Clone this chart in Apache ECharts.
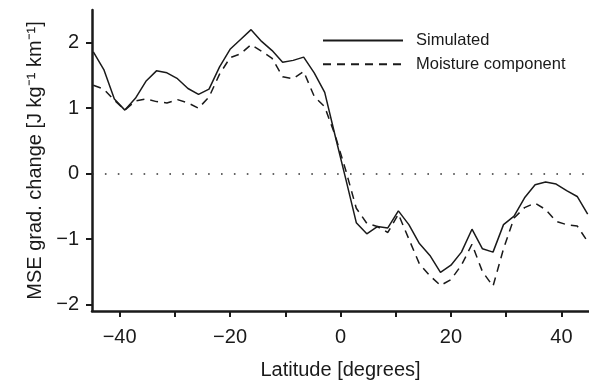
<!DOCTYPE html>
<html><head><meta charset="utf-8">
<script src="https://cdn.jsdelivr.net/npm/echarts@6/dist/echarts.min.js"></script>
<style>html,body{margin:0;padding:0;background:#fff}#c{width:589px;height:385px}</style>
</head><body><div id="c"></div>
<script>
const latitudes = [-44.76,-42.86,-40.95,-39.05,-37.14,-35.24,-33.33,-31.43,-29.52,-27.62,-25.71,-23.81,
  -21.90,-20.00,-18.10,-16.19,-14.29,-12.38,-10.48,-8.57,-6.67,-4.76,-2.86,-0.95,
  0.95,2.86,4.76,6.67,8.57,10.48,12.38,14.29,16.19,18.10,20.00,21.90,
  23.81,25.71,27.62,29.52,31.43,33.33,35.24,37.14,39.05,40.95,42.86,44.76];
const simulated = [1.86,1.59,1.14,0.97,1.15,1.41,1.57,1.54,1.45,1.30,1.21,1.29,
  1.63,1.90,2.05,2.20,2.02,1.88,1.70,1.73,1.78,1.54,1.24,0.57,
  -0.08,-0.75,-0.92,-0.81,-0.83,-0.57,-0.78,-1.07,-1.25,-1.51,-1.40,-1.20,
  -0.85,-1.15,-1.20,-0.78,-0.65,-0.37,-0.17,-0.13,-0.16,-0.26,-0.35,-0.62];
const moisture = [1.35,1.29,1.12,0.97,1.11,1.14,1.10,1.08,1.13,1.08,1.00,1.17,
  1.52,1.77,1.83,1.97,1.87,1.76,1.48,1.45,1.56,1.18,1.02,0.58,
  0.05,-0.53,-0.76,-0.81,-0.90,-0.62,-1.00,-1.38,-1.56,-1.71,-1.62,-1.40,
  -1.08,-1.50,-1.72,-1.15,-0.68,-0.52,-0.45,-0.55,-0.73,-0.78,-0.80,-1.04];
const seriesNames = ['Simulated', 'Moisture component'];
const xTicks = [-40,-30,-20,-10,0,10,20,30,40];
const xLabels = [-40,-20,0,20,40];
const yTicks = [-2,-1,0,1,2];
const xTitle = 'Latitude [degrees]';
const yTitle = 'MSE grad. change [J kg\u207B\u00B9 km\u207B\u00B9]';

const FONT = "'Liberation Sans', Arial, Helvetica, sans-serif";
const INK = '#1a1a1a';
const fmt = v => (v < 0 ? '\u2212' + Math.abs(v) : String(v));
const pairs = arr => latitudes.map((x, i) => [x, arr[i]]);

const chart = echarts.init(document.getElementById('c'), null, {renderer: 'canvas'});
chart.setOption({
  animation: false,
  backgroundColor: '#fff',
  textStyle: {fontFamily: FONT, color: INK},
  grid: {left: 92, right: -7, top: 10, bottom: 73, containLabel: false},
  legend: {
    show: true,
    orient: 'vertical', left: 317, top: 27, itemWidth: 80, itemHeight: 14, itemGap: 6.7,
    itemStyle: {color: 'transparent', borderWidth: 0, opacity: 0},
    textStyle: {fontFamily: FONT, fontSize: 16.5, color: INK, padding: [0, 0, 0, 8]},
    data: seriesNames
  },
  xAxis: {
    type: 'value', min: -45, max: 45,
    name: xTitle, nameLocation: 'middle', nameGap: 49,
    nameTextStyle: {fontFamily: FONT, fontSize: 20, color: INK},
    axisLine: {show: true, onZero: false, lineStyle: {color: INK, width: 2.5}},
    axisTick: {show: true, length: 6, customValues: xTicks, lineStyle: {color: INK, width: 2}},
    axisLabel: {show: true, customValues: xLabels, formatter: fmt, margin: 16, fontSize: 20, color: INK, fontFamily: FONT},
    splitLine: {show: false}
  },
  yAxis: {
    type: 'value', min: -2.1, max: 2.5,
    name: yTitle, nameLocation: 'middle', nameGap: 46, nameRotate: 90,
    nameTextStyle: {fontFamily: FONT, fontSize: 20, color: INK},
    axisLine: {show: true, onZero: false, lineStyle: {color: INK, width: 2.5}},
    axisTick: {show: true, length: 6, customValues: yTicks, lineStyle: {color: INK, width: 2}},
    axisLabel: {show: true, customValues: yTicks, formatter: fmt, margin: 13, fontSize: 20, color: INK, fontFamily: FONT},
    splitLine: {show: false}
  },
  series: [
    {
      name: seriesNames[0], type: 'line', data: pairs(simulated), symbol: 'none', showSymbol: false,
      lineStyle: {color: INK, width: 1.5, type: 'solid'}, itemStyle: {color: INK},
      markLine: {
        silent: true, symbol: 'none', label: {show: false},
        lineStyle: {color: '#333', width: 1.6, type: [1.6, 11.3], dashOffset: 0},
        data: [{yAxis: 0}]
      }
    },
    {
      name: seriesNames[1], type: 'line', data: pairs(moisture), symbol: 'none', showSymbol: false,
      lineStyle: {color: INK, width: 1.5, type: [8, 6]}, itemStyle: {color: INK}
    }
  ]
});
</script></body></html>
